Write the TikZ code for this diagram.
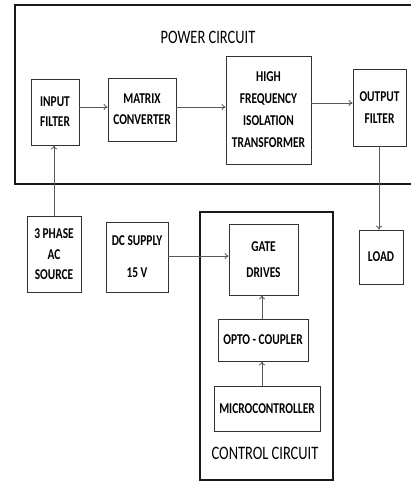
\documentclass[tikz,border=0pt]{standalone}
\usepackage{fontspec}
\setmainfont[FakeStretch=0.76]{Carlito}
\usetikzlibrary{arrows.meta}
\tikzset{
  blk/.style={draw=black!80, line width=0.8pt, fill=white, inner sep=0pt, align=center,
    font=\bfseries\fontsize{15}{22}\selectfont},
  frame/.style={draw=black!90, line width=2pt},
  arr/.style={draw=black!65, line width=0.8pt, -{To[length=4pt,width=6pt]}},
  title/.style={font=\fontsize{19}{20}\selectfont, inner sep=0pt}
}
\begin{document}
\begin{tikzpicture}[x=1pt,y=-1pt]
\useasboundingbox (0,0) rectangle (411,481);
\fill[white] (0,0) rectangle (411,481);
% frames
\draw[frame] (420,5) -- (15,5) -- (15,184) -- (420,184);
\draw[frame] (200,212) rectangle (333,479.5);
\node[title] (pc) at (208,37) {POWER CIRCUIT};
\node[title] (cc) at (265,453) {CONTROL CIRCUIT};
% power blocks
\node[blk, minimum width=48, minimum height=66] (inf) at (55,112) {INPUT\\[-2pt]FILTER};
\node[blk, minimum width=68, minimum height=63] (mat) at (142,109.5) {MATRIX\\[-1pt]CONVERTER};
\node[blk, minimum width=85, minimum height=108] (hft) at (268.5,110) {HIGH\\FREQUENCY\\ISOLATION\\TRANSFORMER};
\node[blk, minimum width=53, minimum height=77] (outf) at (379.5,107.5) {OUTPUT\\FILTER};
% lower blocks
\node[blk, minimum width=54, minimum height=76] (src) at (54,254) {3 PHASE\\[-1pt]AC\\[-2pt]SOURCE};
\node[blk, minimum width=62, minimum height=70] (dc) at (137,257) {DC SUPPLY\\[10pt]15 V};
\node[blk, minimum width=69, minimum height=71] (gate) at (263.5,259.5) {GATE\\[4pt]DRIVES};
\node[blk, minimum width=90, minimum height=42] (opto) at (263,340) {OPTO - COUPLER};
\node[blk, minimum width=106, minimum height=45] (micro) at (267,408.5) {MICROCONTROLLER};
\node[blk, minimum width=44, minimum height=54] (load) at (381,257) {LOAD};
% connectors
\draw[arr] (src.north -| 54,0) -- (inf.south -| 54,0);
\draw[arr] (inf.east |- 0,107) -- (mat.west |- 0,107);
\draw[arr] (mat.east |- 0,107) -- (hft.west |- 0,107);
\draw[arr] (hft.east |- 0,103) -- (outf.west |- 0,103);
\draw[arr] (outf.south -| 379,0) -- (load.north -| 379,0);
\draw[arr] (dc.east |- 0,256) -- (gate.west |- 0,256);
\draw[arr] (opto.north -| 262,0) -- (gate.south -| 262,0);
\draw[arr] (micro.north -| 262,0) -- (opto.south -| 262,0);
\end{tikzpicture}
\end{document}
